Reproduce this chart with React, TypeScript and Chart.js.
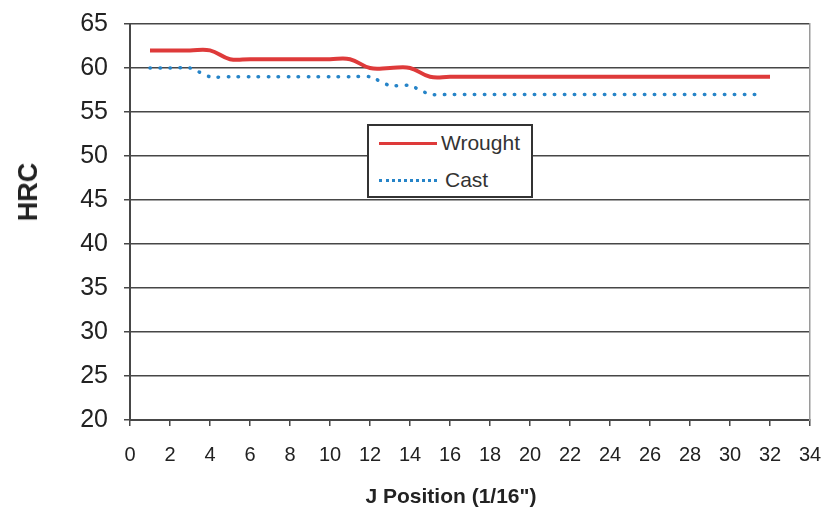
import React, { useEffect, useRef } from "react";
import { Chart, registerables } from "chart.js";

Chart.register(...registerables);

const positions = [1, 2, 3, 4, 5, 6, 7, 8, 9, 10, 11, 12, 13, 14, 15, 16, 17, 18, 19, 20, 21, 22, 23, 24, 25, 26, 27, 28, 29, 30, 31, 32];
const wrought = [62, 62, 62, 62, 61, 61, 61, 61, 61, 61, 61, 60, 60, 60, 59, 59, 59, 59, 59, 59, 59, 59, 59, 59, 59, 59, 59, 59, 59, 59, 59, 59];
const castPositions = [1, 2, 3, 4, 5, 6, 7, 8, 9, 10, 11, 12, 13, 14, 15, 16, 17, 18, 19, 20, 21, 22, 23, 24, 25, 26, 27, 28, 29, 30, 31, 31.5];
const cast = [60, 60, 60, 59, 59, 59, 59, 59, 59, 59, 59, 59, 58, 58, 57, 57, 57, 57, 57, 57, 57, 57, 57, 57, 57, 57, 57, 57, 57, 57, 57, 57];
const seriesNames = ["Wrought", "Cast"];
const xTitle = 'J Position (1/16")';
const yTitle = "HRC";

const RED = "rgb(222,58,58)";
const BLUE = "rgb(38,132,200)";
const GRID = "#474747";
const FONT = "'Liberation Sans', Arial, sans-serif";

export default function App() {
  const ref = useRef<HTMLCanvasElement | null>(null);
  useEffect(() => {
    if (!ref.current) return;
    const chart = new Chart(ref.current, {
      type: "line",
      data: {
        datasets: [
          {
            label: seriesNames[0],
            data: positions.map((x, i) => ({ x, y: wrought[i] })),
            borderColor: RED,
            backgroundColor: RED,
            borderWidth: 4,
            pointRadius: 0,
            tension: 0.4,
          },
          {
            label: seriesNames[1],
            data: castPositions.map((x, i) => ({ x, y: cast[i] })),
            borderColor: BLUE,
            backgroundColor: BLUE,
            borderWidth: 3.5,
            borderDash: [0.5, 9.5],
            borderCapStyle: "round",
            pointRadius: 0,
            tension: 0.2,
          },
        ],
      },
      options: {
        animation: false,
        responsive: false,
        maintainAspectRatio: false,
        layout: { padding: { top: 24, right: 13, left: 0, bottom: 0 } },
        plugins: { legend: { display: false }, tooltip: { enabled: false } },
        scales: {
          x: {
            type: "linear",
            min: 0,
            max: 34,
            ticks: { stepSize: 2, color: "#222", font: { family: FONT, size: 20 }, padding: 17, maxRotation: 0, autoSkip: false },
            grid: { drawOnChartArea: false, drawTicks: true, tickLength: 6, color: GRID, lineWidth: 1.5 },
            border: { color: GRID, width: 2 },
            afterFit: (s: any) => { s.height = 89; s.paddingLeft = 0; s.paddingRight = 0; },
          },
          y: {
            min: 20,
            max: 65,
            ticks: { stepSize: 5, color: "#222", font: { family: FONT, size: 25 }, padding: 16 },
            grid: { drawOnChartArea: true, drawTicks: true, tickLength: 6, color: GRID, lineWidth: 1.5 },
            border: { color: GRID, width: 2 },
            afterFit: (s: any) => { s.width = 130; s.paddingTop = 0; s.paddingBottom = 0; },
          },
          y2: {
            position: "right",
            min: 20,
            max: 65,
            ticks: { display: false },
            grid: { display: false },
            border: { display: true, color: "#9a9a9a", width: 1.5 },
            afterFit: (s: any) => { s.width = 0; s.paddingTop = 0; s.paddingBottom = 0; },
          },
        },
      },
    });
    return () => chart.destroy();
  }, []);

  return (
    <div style={{ position: "fixed", left: 0, top: 0, width: 823, height: 509, background: "#fff", overflow: "hidden" }}>
      <canvas ref={ref} width={823} height={509} style={{ position: "absolute", left: 0, top: 0 }} />
      <div
        style={{
          position: "absolute",
          left: 28,
          top: 192,
          transform: "translate(-50%, -50%) rotate(-90deg)",
          fontFamily: FONT,
          fontWeight: "bold",
          fontSize: 27,
          color: "#222",
          whiteSpace: "nowrap",
          lineHeight: "30px",
        }}
      >
        {yTitle}
      </div>
      <div
        style={{
          position: "absolute",
          left: 451,
          top: 496,
          transform: "translate(-50%, -50%)",
          fontFamily: FONT,
          fontWeight: "bold",
          fontSize: 21,
          color: "#222",
          whiteSpace: "nowrap",
          lineHeight: "24px",
        }}
      >
        {xTitle}
      </div>
      <div
        style={{
          position: "absolute",
          left: 367,
          top: 124,
          width: 162,
          height: 70,
          border: "2px solid #333",
          background: "#fff",
          fontFamily: FONT,
          fontSize: 21,
          color: "#333",
        }}
      >
        <div style={{ position: "absolute", left: 10, top: 16, width: 58, height: 3, background: RED }} />
        <div style={{ position: "absolute", left: 72, top: 5, lineHeight: "24px" }}>{seriesNames[0]}</div>
        <div style={{ position: "absolute", left: 10, top: 53, width: 58, height: 0, borderTop: `3px dotted ${BLUE}` }} />
        <div style={{ position: "absolute", left: 76, top: 42, lineHeight: "24px" }}>{seriesNames[1]}</div>
      </div>
    </div>
  );
}
